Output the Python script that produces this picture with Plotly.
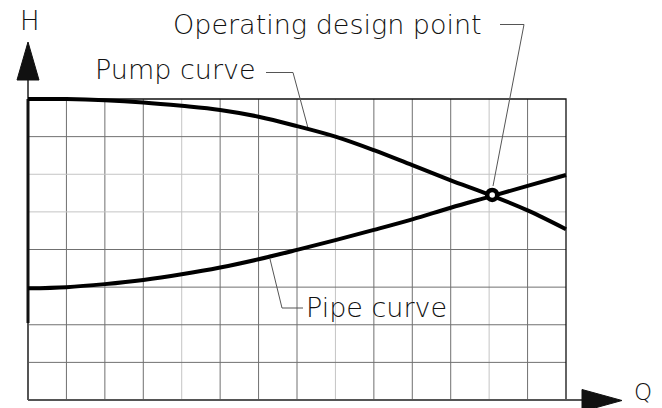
import plotly.graph_objects as go

# flow positions in grid units (one per grid column) and heads
q = [0, 1, 2, 3, 4, 5, 6, 7, 8, 9, 10, 11, 12, 13, 14]
pump_h = [8.0, 8.0, 7.97, 7.91, 7.82, 7.71, 7.53, 7.28, 7.0, 6.64, 6.24, 5.84, 5.46, 5.04, 4.54]
pipe_h = [2.97, 3.0, 3.08, 3.19, 3.34, 3.52, 3.74, 3.99, 4.25, 4.52, 4.8, 5.11, 5.4, 5.69, 5.98]
op_q = [12.08]
op_h = [5.45]
n_cols = 14
n_rows = 8

# pixel layout of the drawing (page pixels)
W, H = 662, 408
X0, Y0 = 28, 400          # grid origin in pixels
SX = 538 / n_cols
SY = 301 / n_rows


def ux(px):
    return (px - X0) / SX


def vy(py):
    return (Y0 - py) / SY


FONT = dict(family="DejaVu Sans ExtraLight, DejaVu Sans Light, DejaVu Sans", size=27, color="#111")
light = {4, 8, 12}
light_rows = {5, 6}

fig = go.Figure()

# grid
for i in range(1, n_cols):
    fig.add_trace(go.Scatter(x=[i, i], y=[0, n_rows], mode='lines',
                             line=dict(color='#c4c4c4' if i in light else '#707070', width=1),
                             hoverinfo='skip'))
for j in range(1, n_rows):
    fig.add_trace(go.Scatter(x=[0, n_cols], y=[j, j], mode='lines',
                             line=dict(color='#c4c4c4' if j in light_rows else '#707070', width=1),
                             hoverinfo='skip'))
# frame top/right
fig.add_trace(go.Scatter(x=[0, n_cols, n_cols], y=[n_rows, n_rows, 0], mode='lines',
                         line=dict(color='#111', width=1.3), hoverinfo='skip'))
# axes
fig.add_trace(go.Scatter(x=[0, 0], y=[0, vy(80)], mode='lines',
                         line=dict(color='#555', width=2), hoverinfo='skip'))
fig.add_trace(go.Scatter(x=[0, 0], y=[vy(323), n_rows], mode='lines',
                         line=dict(color='#111', width=3), hoverinfo='skip'))
fig.add_trace(go.Scatter(x=[0, ux(584)], y=[0, 0], mode='lines',
                         line=dict(color='#555', width=2), hoverinfo='skip'))
# arrow heads
fig.add_trace(go.Scatter(x=[ux(17), ux(28), ux(39), ux(17)], y=[vy(80), vy(42), vy(80), vy(80)],
                         mode='lines', fill='toself', fillcolor='#111',
                         line=dict(color='#111', width=1), hoverinfo='skip'))
fig.add_trace(go.Scatter(x=[ux(582), ux(622), ux(582), ux(582)], y=[vy(389.5), vy(400.5), vy(411.5), vy(389.5)],
                         mode='lines', fill='toself', fillcolor='#111',
                         line=dict(color='#111', width=1), hoverinfo='skip'))

# leader lines
leaders = [
    [(500, 24.5), (524, 24.5), (493, 186)],
    [(266, 72.5), (293, 72.5), (308, 128)],
    [(303, 308), (282, 308), (270, 259)],
]
for pts in leaders:
    fig.add_trace(go.Scatter(x=[ux(p[0]) for p in pts], y=[vy(p[1]) for p in pts], mode='lines',
                             line=dict(color='#555', width=1), hoverinfo='skip'))

# curves
fig.add_trace(go.Scatter(x=q, y=pump_h, mode='lines', line=dict(color='black', width=4, shape='spline')))
fig.add_trace(go.Scatter(x=q, y=pipe_h, mode='lines', line=dict(color='black', width=4, shape='spline')))
fig.add_trace(go.Scatter(x=op_q, y=op_h, mode='markers',
                         marker=dict(symbol='circle', size=10, color='white',
                                     line=dict(color='black', width=4.5))))

labels = [
    ("H", 30, 21, 'center', 26),
    ("Q", 643, 392, 'center', 23),
    ("Operating design point", 172, 24, 'left', 27),
    ("Pump curve", 94, 69, 'left', 27),
    ("Pipe curve", 305, 307, 'left', 27),
]
for txt, px, py, anc, sz in labels:
    fig.add_annotation(x=ux(px), y=vy(py), text=txt, showarrow=False, xanchor=anc, yanchor='middle',
                       font=dict(FONT, size=sz), borderpad=0)

fig.update_layout(
    width=W, height=H,
    margin=dict(l=0, r=0, t=0, b=0),
    paper_bgcolor='white', plot_bgcolor='white',
    showlegend=False,
    xaxis=dict(range=[ux(0), ux(W)], visible=False, fixedrange=True),
    yaxis=dict(range=[vy(H), vy(0)], visible=False, fixedrange=True),
)

fig.write_html("out.html", config={'displayModeBar': False},
               post_script="document.body.style.margin='0px';")
